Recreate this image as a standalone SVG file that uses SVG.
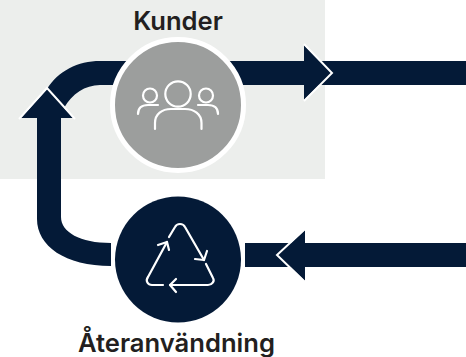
<svg xmlns="http://www.w3.org/2000/svg" width="466" height="357" viewBox="0 0 466 357">
<style>
.lbl{font-family:"Inter","Liberation Sans",sans-serif;font-weight:600;font-size:25.6px;fill:#231f20;text-anchor:middle}
.bar{fill:#041a37}
.edge{fill:none;stroke:#fff;stroke-width:2}
.ic{fill:none;stroke:#fff;stroke-width:2.2;stroke-linecap:round;stroke-linejoin:round}
</style>
<rect x="0" y="0" width="325" height="179" fill="#eceeec"/>
<g id="connectors">
<path class="bar" d="M37 118V219C37 246 65 266 111 266V243C80 243 61 232 61 217V118Z"/>
<path class="bar" d="M47 89C58 71 78 61 100 61H140V85H100C85 85 72 94 64 108L58 114Z"/>
<rect class="bar" x="225" y="61" width="241" height="24"/>
<path class="bar" d="M304 45L331 73L304 100Z"/>
<path class="edge" d="M304 44L332 73L304 101"/>
<rect class="bar" x="245" y="243" width="221" height="24"/>
<path class="bar" d="M305 230L278 255L305 281Z"/>
<path class="edge" d="M305 229L277 255L305 282"/>
<path class="bar" d="M47 89L73 118H21Z"/>
<path class="edge" d="M19 119L47 88L75 119"/>
</g>
<g id="kunder">
<circle cx="178" cy="105" r="65.5" fill="#9c9e9d" stroke="#fff" stroke-width="5"/>
<g class="ic">
<circle cx="178" cy="94" r="12.7"/>
<path d="M155 129V123C155 114 162 109 171 109H185C194 109 201.500 114 201.500 123V129"/>
<circle cx="150" cy="95.500" r="7"/>
<circle cx="206" cy="95.500" r="7"/>
<path d="M138 114C138 108 142 105 148 105H158"/>
<path d="M218 114C218 108 214 105 208 105H198"/>
</g>
<text class="lbl" x="178" y="30">Kunder</text>
</g>
<g id="ateranvandning">
<circle cx="178" cy="259.5" r="63" class="bar"/>
<g class="ic">
<path d="M169 237L175 227C177 223 183 223 185 227L204 260"/>
<path d="M195 259L204 260L207 251"/>
<path d="M206 264L213 278C215 281 212 285 208 285H170"/>
<path d="M176 279L170 285L176 292"/>
<path d="M163 285H152C148 285 145 281 148 277L167 242"/>
<path d="M158 245L167 242L169 250"/>
</g>
<text class="lbl" x="176.500" y="352">Återanvändning</text>
</g>
</svg>
